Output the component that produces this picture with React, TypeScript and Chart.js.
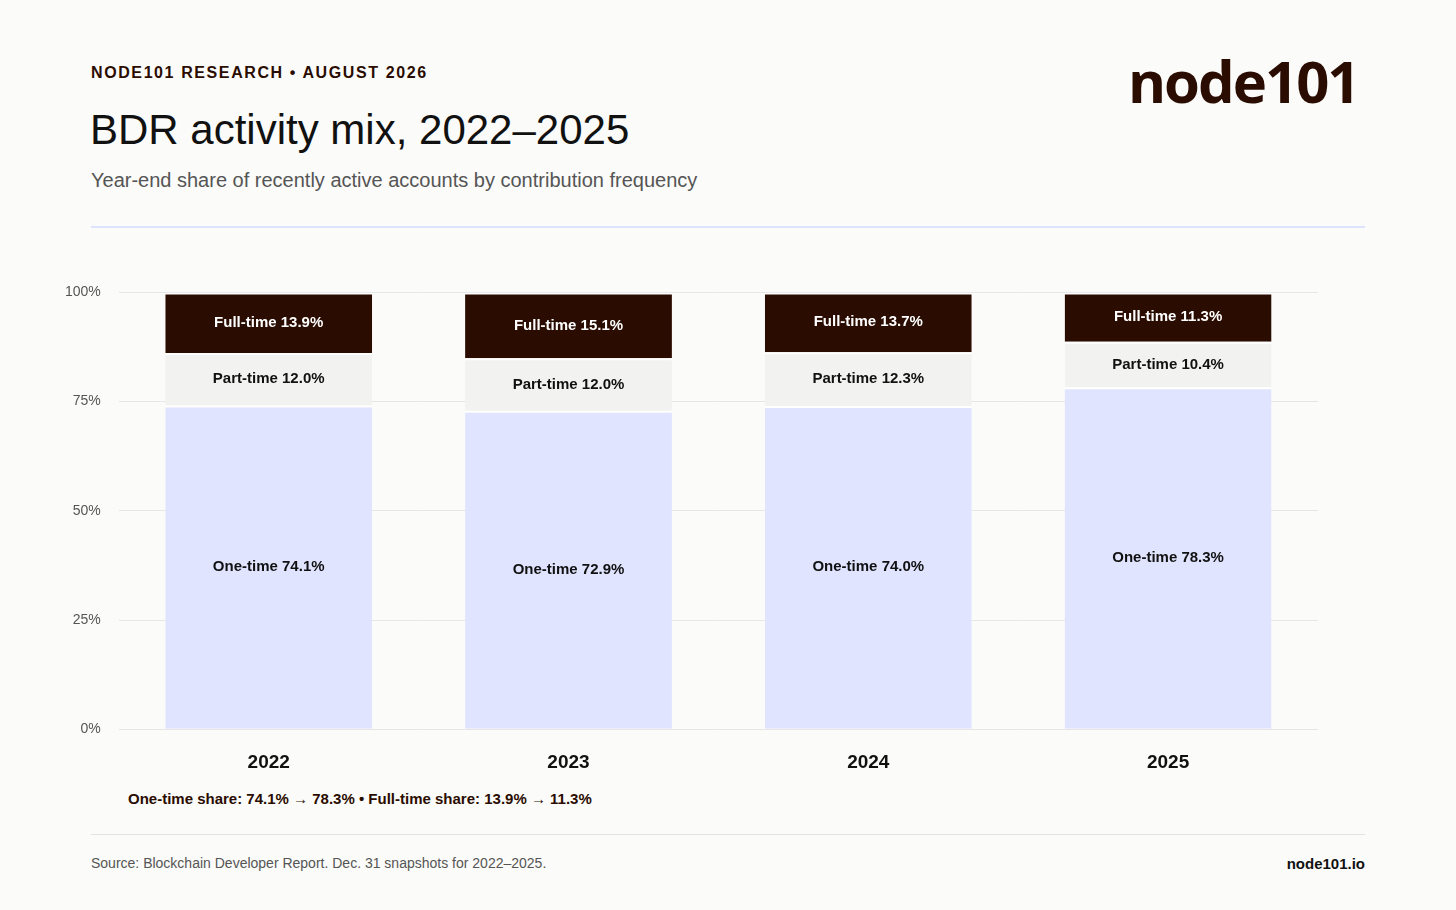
import React, { useEffect, useRef } from 'react';
import { Chart, registerables } from 'chart.js';

Chart.register(...registerables);

const years = ['2022', '2023', '2024', '2025'];
const oneTime = [74.1, 72.9, 74.0, 78.3];
const partTime = [12.0, 12.0, 12.3, 10.4];
const fullTime = [13.9, 15.1, 13.7, 11.3];
const yTicks = [0, 25, 50, 75, 100];

const FONT = '"Liberation Sans", Arial, Helvetica, sans-serif';
const DARK = '#2a0c00';

const segmentLabels = {
  id: 'segmentLabels',
  afterDatasetsDraw(chart: any) {
    const ctx = chart.ctx;
    ctx.save();
    ctx.font = `bold 15px ${FONT}`;
    ctx.textAlign = 'center';
    ctx.textBaseline = 'middle';
    chart.data.datasets.forEach((ds: any, di: number) => {
      const meta = chart.getDatasetMeta(di);
      meta.data.forEach((bar: any, i: number) => {
        const y = (bar.y + bar.base) / 2;
        ctx.fillStyle = di === 2 ? '#ffffff' : '#111111';
        ctx.fillText(`${ds.label} ${ds.data[i].toFixed(1)}%`, bar.x, y);
      });
    });
    ctx.restore();
  },
};

const App = () => {
  const canvasRef = useRef<HTMLCanvasElement>(null);

  useEffect(() => {
    document.body.style.margin = '0';
    document.body.style.background = '#fbfbf9';
    if (!canvasRef.current) return;
    const chart = new Chart(canvasRef.current, {
      type: 'bar',
      data: {
        labels: years,
        datasets: [
          { label: 'One-time', data: oneTime, backgroundColor: '#e0e4ff' },
          { label: 'Part-time', data: partTime, backgroundColor: '#f2f2f0' },
          { label: 'Full-time', data: fullTime, backgroundColor: DARK },
        ].map((d) => ({
          ...d,
          borderColor: '#ffffff',
          borderWidth: { top: 2, bottom: 0, left: 0, right: 0 },
          borderSkipped: false,
          barPercentage: 0.69,
          categoryPercentage: 1,
        })),
      },
      options: {
        animation: false,
        responsive: false,
        maintainAspectRatio: false,
        layout: { padding: { top: 10, right: 0, left: 0, bottom: 0 } },
        plugins: { legend: { display: false }, tooltip: { enabled: false } },
        scales: {
          x: {
            stacked: true,
            grid: { display: false },
            border: { display: false },
            ticks: { color: '#111', font: { family: FONT, size: 19, weight: 'bold' }, padding: 14 },
          },
          y: {
            stacked: true,
            min: 0,
            max: 100,
            afterBuildTicks: (axis: any) => {
              axis.ticks = yTicks.map((v) => ({ value: v }));
            },
            grid: { color: '#e6e6e6', drawTicks: false },
            border: { display: false },
            ticks: {
              color: '#555',
              font: { family: FONT, size: 14 },
              padding: 18,
              callback: (v: any) => `${v}%`,
            },
          },
        },
      },
      plugins: [segmentLabels],
    });
    return () => chart.destroy();
  }, []);

  return (
    <div style={{ position: 'relative', width: 1456, height: 910, background: '#fbfbf9', fontFamily: FONT }}>
      <div style={{ position: 'absolute', left: 91, top: 64, fontSize: 16, fontWeight: 'bold', letterSpacing: 1.6, color: DARK }}>
        NODE101 RESEARCH • AUGUST 2026
      </div>
      <div style={{ position: 'absolute', left: 1128, top: 46, fontSize: 58, fontWeight: 'bold', color: DARK, letterSpacing: -2, fontFamily: '"Open Sans", sans-serif', lineHeight: '70px' }}>
        node101
      </div>
      <div style={{ position: 'absolute', left: 90, top: 106, fontSize: 42, color: '#111' }}>BDR activity mix, 2022–2025</div>
      <div style={{ position: 'absolute', left: 91, top: 169, fontSize: 20, color: '#555' }}>
        Year-end share of recently active accounts by contribution frequency
      </div>
      <div style={{ position: 'absolute', left: 91, top: 226, width: 1274, height: 2, background: '#dde2ff' }} />
      <canvas ref={canvasRef} width={1271} height={522} style={{ position: 'absolute', left: 47, top: 266, width: 1271, height: 522 }} />
      <div style={{ position: 'absolute', left: 128, top: 790, fontSize: 15, fontWeight: 'bold', color: DARK }}>
        One-time share: 74.1% → 78.3% • Full-time share: 13.9% → 11.3%
      </div>
      <div style={{ position: 'absolute', left: 91, top: 834, width: 1274, height: 1, background: '#e3e3e3' }} />
      <div style={{ position: 'absolute', left: 91, top: 855, fontSize: 14, color: '#555' }}>
        Source: Blockchain Developer Report. Dec. 31 snapshots for 2022–2025.
      </div>
      <div style={{ position: 'absolute', right: 91, top: 855, fontSize: 15, fontWeight: 'bold', color: '#111' }}>node101.io</div>
    </div>
  );
};

export default App;
